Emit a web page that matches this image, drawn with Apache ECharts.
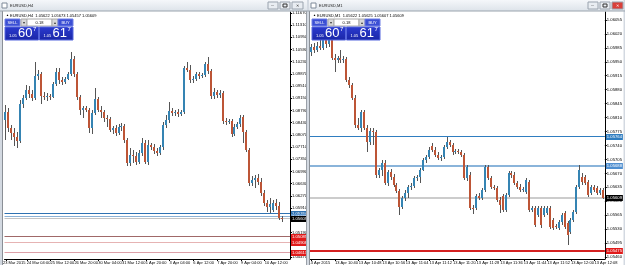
<!DOCTYPE html>
<html><head><meta charset="utf-8">
<script src="https://cdn.jsdelivr.net/npm/echarts@6/dist/echarts.min.js"></script>
<style>html,body{margin:0;padding:0;background:#fff;}#c{width:625px;height:265px;}</style>
</head><body><div id="c"></div>
<script>
// ---------- EURUSD H4 (left window) ----------
const h4Open = [1.08507,1.08743,1.08271,1.08123,1.08005,1.07887,1.08979,1.09156,1.09392,1.09274,
1.09156,1.09805,1.09864,1.09215,1.09185,1.09215,1.09185,1.09569,1.09923,1.09687,
1.09628,1.09716,1.09864,1.10306,1.09864,1.09185,1.08802,1.08861,1.08802,1.08271,
1.08713,1.09126,1.08802,1.08743,1.08566,1.08536,1.08212,1.08271,1.08123,1.08300,
1.08330,1.07917,1.07238,1.07474,1.07445,1.07268,1.07533,1.07828,1.07268,1.07769,
1.07710,1.07592,1.07533,1.07710,1.08359,1.08507,1.08772,1.08713,1.08743,1.08684,
1.08743,1.10041,1.09982,1.09687,1.09716,1.09864,1.09805,1.09834,1.10159,1.09952,
1.09215,1.09333,1.09244,1.09303,1.08477,1.08448,1.08477,1.08094,1.08300,1.08389,
1.08595,1.08153,1.07622,1.06648,1.06737,1.06796,1.06678,1.06353,1.06058,1.05940,
1.05852,1.06058,1.05970,1.05616];
const h4Close = [1.08743,1.08271,1.08123,1.08005,1.07887,1.08979,1.09156,1.09392,1.09274,1.09156,
1.09805,1.09864,1.09215,1.09185,1.09215,1.09185,1.09569,1.09923,1.09687,1.09628,
1.09716,1.09864,1.10306,1.09864,1.09185,1.08802,1.08861,1.08802,1.08271,1.08713,
1.09126,1.08802,1.08743,1.08566,1.08536,1.08212,1.08271,1.08123,1.08300,1.08330,
1.07917,1.07238,1.07474,1.07445,1.07268,1.07533,1.07828,1.07268,1.07769,1.07710,
1.07592,1.07533,1.07710,1.08359,1.08507,1.08772,1.08713,1.08743,1.08684,1.08743,
1.10041,1.09982,1.09687,1.09716,1.09864,1.09805,1.09834,1.10159,1.09952,1.09215,
1.09333,1.09244,1.09303,1.08477,1.08448,1.08477,1.08094,1.08300,1.08389,1.08566,
1.08153,1.07622,1.06648,1.06737,1.06796,1.06678,1.06353,1.06058,1.05940,1.06029,
1.06058,1.05970,1.05616,1.05609];
const h4Low = [1.07917,1.08153,1.07917,1.07740,1.07681,1.07828,1.08861,1.09097,1.09156,1.09067,
1.09097,1.09687,1.08979,1.09097,1.09067,1.09097,1.09156,1.09510,1.09569,1.09539,
1.09569,1.09687,1.09805,1.09775,1.09097,1.08654,1.08566,1.08743,1.08123,1.08094,
1.08654,1.08743,1.08566,1.08448,1.08300,1.08153,1.08094,1.08035,1.08064,1.08182,
1.07828,1.07150,1.07150,1.07238,1.07179,1.07209,1.07445,1.07209,1.07179,1.07622,
1.07504,1.07445,1.07474,1.07622,1.08271,1.08418,1.08625,1.08625,1.08595,1.08625,
1.08684,1.09923,1.09598,1.09598,1.09657,1.09716,1.09746,1.09775,1.09864,1.09126,
1.09126,1.09156,1.09156,1.08389,1.08359,1.08389,1.08005,1.08035,1.08241,1.08300,
1.07828,1.07563,1.06560,1.06560,1.06501,1.06589,1.06265,1.05970,1.05793,1.05763,
1.05793,1.05852,1.05557,1.05498];
const h4High = [1.08949,1.08861,1.08359,1.08271,1.08153,1.09097,1.09244,1.09539,1.09510,1.09392,
1.10218,1.09982,1.09923,1.09333,1.09303,1.09274,1.09628,1.10041,1.10041,1.09775,
1.09775,1.09923,1.10513,1.10395,1.09923,1.09244,1.08920,1.08920,1.08861,1.08802,
1.09451,1.09185,1.08920,1.08802,1.08654,1.08595,1.08330,1.08359,1.08389,1.08418,
1.08389,1.07976,1.07681,1.07622,1.07563,1.07622,1.07976,1.07917,1.07917,1.07828,
1.07799,1.07681,1.07769,1.08448,1.08654,1.09038,1.08861,1.08802,1.08831,1.08802,
1.10100,1.10218,1.10129,1.09805,1.09923,1.09923,1.09893,1.10218,1.10365,1.10011,
1.09451,1.09392,1.09392,1.09362,1.08566,1.08536,1.08536,1.08389,1.08448,1.08654,
1.08654,1.08212,1.07681,1.06855,1.06884,1.06914,1.06796,1.06442,1.06147,1.06206,
1.06147,1.06176,1.06088,1.05675];
const h4PriceTicks = [1.11670,1.11310,1.10950,1.10590,1.10230,1.09870,1.09510,1.09150,1.08790,1.08430,1.08070,1.07710,1.07350,1.06990,1.06630,1.06270,1.05910,1.05550,1.05190,1.04830,1.04470];
const h4TickIdx = [0,7,15,23,31,39,47,55,63,71,79,87];
const h4TickLabels = ["23 Mar 2015","24 Mar 04:00","25 Mar 12:00","26 Mar 20:00","30 Mar 04:00","31 Mar 12:00","1 Apr 20:00","3 Apr 04:00","6 Apr 12:00","7 Apr 20:00","9 Apr 04:00","10 Apr 12:00"];
const h4Levels = [1.05764,1.05688,1.05609,1.05085,1.04908,1.04613];

// ---------- EURUSD M1 (right window) ----------
const m1Open = [1.05975,1.05987,1.05980,1.05990,1.05985,1.06005,1.05995,1.06010,1.05959,1.05954,
1.05959,1.05954,1.05957,1.05904,1.05892,1.05859,1.05791,1.05784,1.05824,1.05784,
1.05749,1.05776,1.05774,1.05666,1.05678,1.05696,1.05646,1.05673,1.05661,1.05641,
1.05626,1.05585,1.05608,1.05621,1.05636,1.05638,1.05658,1.05661,1.05678,1.05703,
1.05711,1.05739,1.05729,1.05716,1.05708,1.05711,1.05736,1.05749,1.05741,1.05724,
1.05726,1.05724,1.05716,1.05658,1.05666,1.05583,1.05583,1.05613,1.05608,1.05628,
1.05686,1.05658,1.05636,1.05633,1.05603,1.05613,1.05578,1.05616,1.05671,1.05666,
1.05646,1.05636,1.05628,1.05623,1.05648,1.05578,1.05583,1.05565,1.05583,1.05565,
1.05570,1.05583,1.05553,1.05538,1.05533,1.05548,1.05570,1.05545,1.05523,1.05553,
1.05573,1.05636,1.05661,1.05661,1.05648,1.05621,1.05636,1.05633,1.05621,1.05628];
const m1Close = [1.05987,1.05980,1.05990,1.05985,1.06005,1.05995,1.06010,1.05959,1.05954,1.05959,
1.05954,1.05957,1.05904,1.05892,1.05859,1.05791,1.05784,1.05824,1.05784,1.05749,
1.05776,1.05774,1.05666,1.05678,1.05696,1.05646,1.05673,1.05661,1.05641,1.05626,
1.05585,1.05608,1.05621,1.05636,1.05638,1.05658,1.05661,1.05678,1.05703,1.05711,
1.05729,1.05729,1.05716,1.05708,1.05711,1.05736,1.05749,1.05741,1.05724,1.05726,
1.05724,1.05716,1.05658,1.05686,1.05583,1.05580,1.05613,1.05608,1.05628,1.05686,
1.05658,1.05636,1.05633,1.05603,1.05590,1.05578,1.05616,1.05671,1.05666,1.05646,
1.05636,1.05628,1.05631,1.05653,1.05578,1.05583,1.05540,1.05583,1.05540,1.05583,
1.05583,1.05535,1.05533,1.05535,1.05548,1.05565,1.05535,1.05515,1.05553,1.05573,
1.05636,1.05678,1.05648,1.05646,1.05616,1.05636,1.05628,1.05621,1.05628,1.05609];
const m1Low = [1.05964,1.05972,1.05975,1.05980,1.05980,1.05985,1.05987,1.05954,1.05924,1.05947,
1.05947,1.05947,1.05899,1.05884,1.05854,1.05784,1.05779,1.05774,1.05779,1.05724,
1.05741,1.05741,1.05658,1.05658,1.05663,1.05641,1.05638,1.05653,1.05636,1.05621,
1.05565,1.05580,1.05601,1.05608,1.05628,1.05633,1.05651,1.05646,1.05676,1.05696,
1.05706,1.05724,1.05711,1.05703,1.05701,1.05706,1.05731,1.05736,1.05716,1.05719,
1.05719,1.05711,1.05653,1.05651,1.05578,1.05568,1.05578,1.05603,1.05603,1.05623,
1.05653,1.05631,1.05628,1.05598,1.05570,1.05573,1.05573,1.05611,1.05658,1.05641,
1.05631,1.05623,1.05623,1.05618,1.05573,1.05573,1.05535,1.05560,1.05533,1.05560,
1.05565,1.05530,1.05528,1.05530,1.05528,1.05540,1.05530,1.05490,1.05518,1.05548,
1.05568,1.05631,1.05641,1.05641,1.05611,1.05616,1.05623,1.05616,1.05616,1.05605];
const m1High = [1.05995,1.05997,1.06000,1.06005,1.06015,1.06017,1.06022,1.06017,1.05969,1.05964,
1.05980,1.05964,1.05962,1.05912,1.05897,1.05867,1.05809,1.05829,1.05829,1.05791,
1.05784,1.05784,1.05779,1.05683,1.05703,1.05703,1.05678,1.05681,1.05668,1.05646,
1.05631,1.05613,1.05628,1.05641,1.05646,1.05663,1.05666,1.05683,1.05708,1.05716,
1.05736,1.05746,1.05736,1.05724,1.05716,1.05741,1.05761,1.05754,1.05746,1.05731,
1.05731,1.05729,1.05721,1.05691,1.05673,1.05590,1.05618,1.05621,1.05633,1.05691,
1.05691,1.05663,1.05641,1.05638,1.05611,1.05618,1.05621,1.05676,1.05676,1.05673,
1.05651,1.05643,1.05636,1.05658,1.05653,1.05588,1.05588,1.05588,1.05588,1.05588,
1.05588,1.05588,1.05558,1.05543,1.05553,1.05570,1.05575,1.05550,1.05558,1.05578,
1.05641,1.05691,1.05671,1.05666,1.05653,1.05641,1.05641,1.05638,1.05633,1.05633];
const m1PriceTicks = [1.06055,1.06020,1.05985,1.05950,1.05915,1.05880,1.05845,1.05810,1.05775,1.05740,1.05705,1.05670,1.05635,1.05600,1.05565,1.05530,1.05495,1.05460];
const m1TickIdx = [0,8,16,24,32,40,48,56,64,72,80,88,96];
const m1TickLabels = ["13 Apr 2015","13 Apr 10:40","13 Apr 10:48","13 Apr 10:56","13 Apr 11:04","13 Apr 11:12","13 Apr 11:20","13 Apr 11:28","13 Apr 11:36","13 Apr 11:44","13 Apr 11:52","13 Apr 12:00","13 Apr 12:08"];
const m1Levels = [1.05764,1.05688,1.05609,1.05475];

const FONT = 'Liberation Sans';
const BULL = '#3584b3', BEAR = '#bd5536', WICK = '#555';

function candleRender(params, api){
  const i = api.value(0), o = api.value(1), c = api.value(2), lo = api.value(3), hi = api.value(4);
  const pO = api.coord([i,o]), pC = api.coord([i,c]), pL = api.coord([i,lo]), pH = api.coord([i,hi]);
  const cx = Math.floor(pO[0]);
  const top = Math.round(Math.min(pO[1],pC[1])), bot = Math.round(Math.max(pO[1],pC[1]));
  const yh = Math.round(pH[1]), yl = Math.round(pL[1]);
  return {type:'group', children:[
    {type:'rect', shape:{x:cx, y:yh, width:1, height:Math.max(1, yl-yh)}, style:{fill:WICK}},
    {type:'rect', shape:{x:cx-1, y:top, width:2, height:Math.max(1, bot-top)}, style:{fill: c>=o ? BULL : BEAR}}
  ]};
}
function levelRender(styles){
  return function(params, api){
    const k = api.value(0), v = api.value(1);
    const cs = params.coordSys;
    const st = styles[k];
    const y = Math.round(api.coord([0, v])[1]) + (st.w % 2 ? 0.5 : 0);
    const x2 = cs.x + cs.width;
    return {type:'group', children:[
      {type:'line', shape:{x1:cs.x, y1:y, x2:x2, y2:y}, style:{stroke:st.line, lineWidth:st.w}},
      {type:'rect', shape:{x:x2+1, y:Math.round(y)-3, width:17, height:6}, style:{fill:st.box}},
      {type:'text', x:x2+2, y:Math.round(y), style:{text:v.toFixed(5), fill:'#fff', fontSize:4.2, fontFamily:FONT, verticalAlign:'middle', align:'left'}}
    ]};
  };
}

function xAxisCfg(gi, n, idx, labels){
  return {gridIndex:gi, type:'category', data:Array.from({length:n},(_,i)=>String(i)), boundaryGap:true,
    axisLine:{show:true, lineStyle:{color:'#000', width:1}},
    axisTick:{show:true, length:2, alignWithLabel:true, interval:(i)=>idx.includes(i), lineStyle:{color:'#000'}},
    axisLabel:{show:true, interval:0,
      formatter:(v,i)=>{const k=idx.indexOf(i); if(k<0) return ''; return k===0 ? '{f|'+labels[k]+'}' : labels[k];},
      rich:{f:{fontSize:4, fontFamily:FONT, color:'#000', padding:[0,0,0,-3]}},
      align:'left', fontSize:4, fontFamily:FONT, color:'#000', margin:2, hideOverlap:false},
    splitLine:{show:false}};
}
function yAxisCfg(gi, min, max, ticks){
  return {gridIndex:gi, type:'value', position:'right', min, max, scale:true,
    axisLine:{show:true, onZero:false, lineStyle:{color:'#000', width:1}},
    axisTick:{show:true, length:2, customValues:ticks, lineStyle:{color:'#000'}},
    axisLabel:{show:true, customValues:ticks, formatter:(v)=>Number(v).toFixed(5), fontSize:4.2, fontFamily:FONT, color:'#000', margin:2},
    splitLine:{show:false}};
}
const h4Styles = [{line:'#2f72b2',w:1,box:'#2f72b2'},{line:'#8cb2d6',w:1,box:'#5e94cc'},{line:'#c4c4c4',w:1,box:'#000'},
  {line:'#a06868',w:1,box:'#e01a1a'},{line:'#e6b3b3',w:1,box:'#e01a1a'},{line:'#dda0a8',w:1,box:'#e01a1a'}];
const m1Styles = [{line:'#2f7dc0',w:1,box:'#2f7dc0'},{line:'#8ab4da',w:2,box:'#4f8fd0'},{line:'#cccccc',w:2,box:'#000'},{line:'#d42020',w:2,box:'#e01a1a'}];

// ---------- window chrome (graphic) ----------
const G = [];
function rect(x,y,w,h,fill,stroke,z){ G.push({type:'rect', shape:{x,y,width:w,height:h}, style:{fill, stroke:stroke||null, lineWidth:stroke?1:0}, z:z||100, silent:true}); }
function txt(x,y,s,size,fill,opt){ G.push({type:'text', x, y, style:Object.assign({text:s, fill:fill||'#000', fontSize:size, fontFamily:FONT, align:'left', verticalAlign:'middle'}, opt||{}), z:102, silent:true}); }
const titleGrad = {type:'linear',x:0,y:0,x2:0,y2:1,colorStops:[{offset:0,color:'#f5f7fa'},{offset:1,color:'#dde3ea'}]};
rect(0,0,625,11,titleGrad);
rect(0,11,2,254,'#d3d9e1'); rect(2,11,1,254,'#8a8f96');
rect(307,0,2,265,'#d3d9e1'); rect(306,11,1,254,'#9aa0a8'); rect(309,11,1,254,'#8a8f96');
rect(623.5,0,1.5,265,'#d3d9e1');
rect(0,10.5,625,1,'#9aa3ae');
function titleBar(x0, title, closeRed, bx){
  rect(x0+2,3,5,5,'#fff','#7f8a99');
  txt(x0+10,5.5,title,4,'#222');
  rect(bx,2,10,7,'#e9edf2','#9aa3ae'); txt(bx+3,5.5,'—',3,'#333');
  rect(bx+12,2,10,7,'#e9edf2','#9aa3ae'); rect(bx+15,4,4,3,'none','#333');
  rect(bx+24,2,11,7,closeRed?'#d9403a':'#e9edf2','#9aa3ae'); txt(bx+27.5,5.5,'✕',4,closeRed?'#fff':'#333');
}
titleBar(0,'EURUSD,H4',false,268);
titleBar(309,'EURUSD,M1',true,588);

function panel(x0, header){
  txt(x0+1,15.5,'▲',3,'#000');
  txt(x0+5,15.5,header,4,'#000');
  const btn = '#3b4fd4', dark = {type:'linear',x:0,y:0,x2:0,y2:1,colorStops:[{offset:0,color:'#2b3bd0'},{offset:1,color:'#1a26a6'}]};
  rect(x0,19,15,7,btn,'#6f7fe6'); txt(x0+7.5,22.5,'SELL',4,'#fff',{align:'center'});
  rect(x0+16,19,6,7,'#d8d8d8','#aaa'); txt(x0+19,22.5,'▾',4,'#333',{align:'center'});
  rect(x0+22,19,25,7,'#fff','#aaa'); txt(x0+34.5,22.5,'0.18',4,'#000',{align:'center'});
  rect(x0+47,19,6,7,'#d8d8d8','#aaa'); txt(x0+50,22.5,'▴',4,'#333',{align:'center'});
  rect(x0+53,19,15,7,btn,'#6f7fe6'); txt(x0+60.5,22.5,'BUY',4,'#fff',{align:'center'});
  rect(x0,27,33.5,13,dark,'#5566dd'); rect(x0+34.5,27,33.5,13,dark,'#5566dd');
  txt(x0+4,35.5,'1.05',4,'#fff'); txt(x0+13,33.5,'60',13,'#fff'); txt(x0+28,29.5,'7',6,'#fff');
  txt(x0+38.5,35.5,'1.05',4,'#fff'); txt(x0+47.5,33.5,'61',13,'#fff'); txt(x0+62.5,29.5,'7',6,'#fff');
}
panel(5,'EURUSD,H4  1.05622 1.05673 1.05457 1.05609');
panel(312,'EURUSD,M1  1.05622 1.05625 1.05607 1.05609');

const chart = echarts.init(document.getElementById('c'), null, {renderer:'canvas'});
chart.setOption({
  animation:false,
  backgroundColor:'#fff',
  grid:[{left:3, top:12, width:287, height:247}, {left:310, top:12, width:295, height:247}],
  xAxis:[xAxisCfg(0,96,h4TickIdx,h4TickLabels), xAxisCfg(1,100,m1TickIdx,m1TickLabels)],
  yAxis:[yAxisCfg(0,1.04407,1.11693,h4PriceTicks), yAxisCfg(1,1.05455,1.06075,m1PriceTicks)],
  graphic:{elements:G},
  series:[
    {type:'custom', xAxisIndex:0, yAxisIndex:0, renderItem:levelRender(h4Styles), clip:false, z:3, silent:true,
      encode:{x:0, y:1}, data:h4Levels.map((v,k)=>[k,v])},
    {type:'custom', xAxisIndex:1, yAxisIndex:1, renderItem:levelRender(m1Styles), clip:false, z:3, silent:true,
      encode:{x:0, y:1}, data:m1Levels.map((v,k)=>[k,v])},
    {type:'custom', xAxisIndex:0, yAxisIndex:0, renderItem:candleRender, clip:true, z:5, silent:true,
      encode:{x:0, y:[1,2,3,4]}, data:h4Open.map((o,i)=>[i,o,h4Close[i],h4Low[i],h4High[i]])},
    {type:'custom', xAxisIndex:1, yAxisIndex:1, renderItem:candleRender, clip:true, z:5, silent:true,
      encode:{x:0, y:[1,2,3,4]}, data:m1Open.map((o,i)=>[i,o,m1Close[i],m1Low[i],m1High[i]])}
  ]
});
</script></body></html>
